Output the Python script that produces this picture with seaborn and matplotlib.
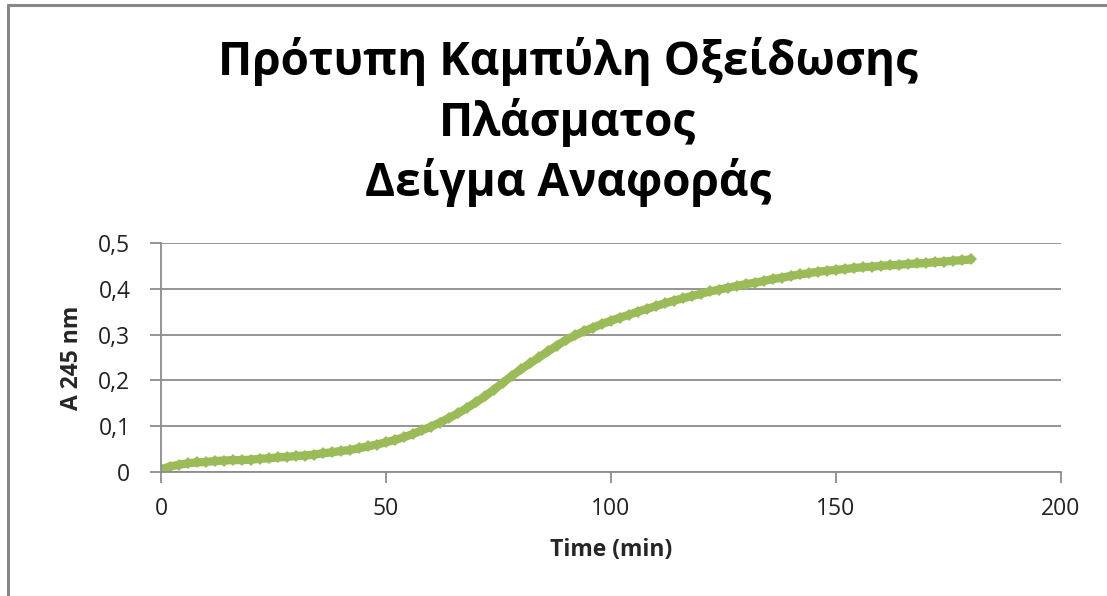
import matplotlib
matplotlib.use("Agg")
import matplotlib.pyplot as plt
import matplotlib.lines as mlines
import seaborn as sns
import pandas as pd

# Absorbance at 245 nm recorded every 2 minutes
time_min = list(range(0, 182, 2))
absorbance = [
    0.006, 0.012, 0.016, 0.019, 0.021, 0.022, 0.024, 0.025, 0.026, 0.026,
    0.027, 0.029, 0.030, 0.032, 0.033, 0.035, 0.036, 0.038, 0.041, 0.043,
    0.046, 0.048, 0.052, 0.056, 0.060, 0.065, 0.070, 0.076, 0.083, 0.091,
    0.099, 0.108, 0.118, 0.128, 0.140, 0.152, 0.165, 0.180, 0.195, 0.210,
    0.224, 0.237, 0.250, 0.263, 0.276, 0.288, 0.298, 0.307, 0.315, 0.323,
    0.330, 0.337, 0.343, 0.350, 0.356, 0.362, 0.368, 0.374, 0.379, 0.384,
    0.389, 0.394, 0.398, 0.402, 0.406, 0.410, 0.413, 0.417, 0.421, 0.424,
    0.428, 0.431, 0.434, 0.437, 0.439, 0.441, 0.443, 0.445, 0.447, 0.448,
    0.450, 0.451, 0.452, 0.454, 0.455, 0.456, 0.458, 0.459, 0.461, 0.462,
    0.464,
]

x_ticks = [0, 50, 100, 150, 200]
y_ticks = [0, 0.1, 0.2, 0.3, 0.4, 0.5]
y_tick_labels = ["0", "0,1", "0,2", "0,3", "0,4", "0,5"]

title = "Πρότυπη Καμπύλη Οξείδωσης\nΠλάσματος\nΔείγμα Αναφοράς"
x_label = "Time (min)"
y_label = "A 245 nm"

sns.set_style("white")
plt.rcParams["font.family"] = ["Open Sans", "DejaVu Sans"]

df = pd.DataFrame({"time": time_min, "abs": absorbance})

fig = plt.figure(figsize=(11.07, 5.96), dpi=100)
ax = fig.add_axes([0.1454, 0.208, 0.813, 0.3845])

sns.lineplot(data=df, x="time", y="abs", ax=ax, color="#9BBB59",
             linewidth=6, marker="D", markersize=6.5, markeredgewidth=0)

grid_c = "#8C8C8C"
ax.set_xlim(0, 200)
ax.set_ylim(0, 0.5)
ax.set_xticks(x_ticks)
ax.set_xticklabels([str(v) for v in x_ticks])
ax.set_yticks(y_ticks)
ax.set_yticklabels(y_tick_labels)
ax.yaxis.grid(True, color=grid_c, linewidth=1.3)
ax.set_axisbelow(True)

for side in ("top", "right"):
    ax.spines[side].set_visible(False)
for side in ("left", "bottom"):
    ax.spines[side].set_color(grid_c)
    ax.spines[side].set_linewidth(1.3)

ax.tick_params(axis="both", which="major", direction="out", length=8,
               width=1.3, color=grid_c, labelsize=16.5, labelcolor="#222222",
               left=True, bottom=True)
ax.tick_params(axis="x", pad=10)
ax.tick_params(axis="y", pad=14)

ax.set_xlabel(x_label, fontsize=16.5, fontweight="bold", labelpad=12)
ax.set_ylabel(y_label, fontsize=16.5, fontweight="bold", labelpad=10)

fig.text(0.513, 0.795, title, ha="center", va="center", fontsize=33,
         fontweight="bold", linespacing=1.3, color="black")

# outer chart frame
fig.add_artist(mlines.Line2D([0.0072, 0.0072], [-0.05, 0.9908],
                             transform=fig.transFigure, color="#878787", lw=2.2))
fig.add_artist(mlines.Line2D([0.0072, 1.05], [0.9908, 0.9908],
                             transform=fig.transFigure, color="#878787", lw=2.2))

fig.savefig("out.png", dpi=100)
